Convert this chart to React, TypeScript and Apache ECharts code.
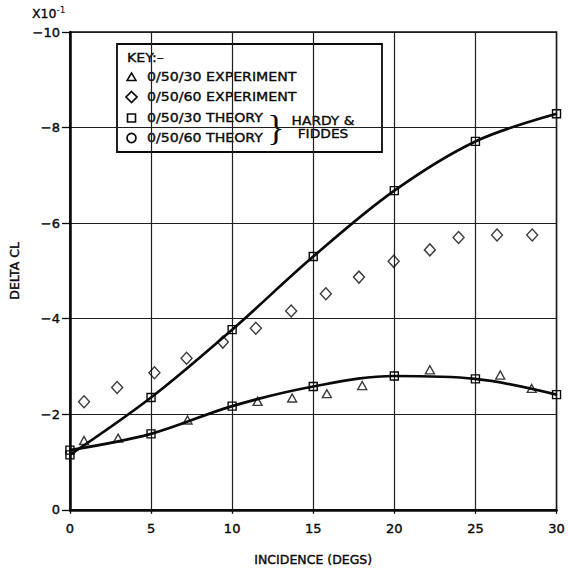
import React, { useEffect, useRef } from "react";
import * as echarts from "echarts";

// Theory curves (Hardy & Fiddes), computed at 5 degree steps
const theoryIncidence = [0, 5, 10, 15, 20, 25, 30];
const theory60 = [-1.15, -2.35, -3.77, -5.3, -6.68, -7.71, -8.29];
const theory30 = [-1.25, -1.59, -2.17, -2.58, -2.8, -2.74, -2.41];

// 0/50/30 experiment
const exp30Incidence = [0.87, 2.97, 7.25, 11.57, 13.7, 15.84, 18.02, 22.19, 26.53, 28.47];
const exp30 = [-1.45, -1.5, -1.88, -2.27, -2.34, -2.43, -2.6, -2.93, -2.82, -2.54];

// 0/50/60 experiment
const exp60Incidence = [0.87, 2.91, 5.21, 7.19, 9.43, 11.46, 13.64, 15.78, 17.82, 19.96, 22.19, 23.96, 26.33, 28.5];
const exp60 = [-2.26, -2.56, -2.87, -3.17, -3.51, -3.8, -4.16, -4.52, -4.87, -5.2, -5.44, -5.7, -5.75, -5.75];

const xTicks = [0, 5, 10, 15, 20, 25, 30];
const keyLabels = [
  "0/50/30 EXPERIMENT",
  "0/50/60 EXPERIMENT",
  "0/50/30 THEORY",
  "0/50/60 THEORY",
];

const INK = "#0a0a0a";
const FONT = "DejaVu Sans";

const pairs = (xs: number[], ys: number[]) => xs.map((x, i) => [x, ys[i]]);

export default function App() {
  const ref = useRef<HTMLDivElement>(null);

  useEffect(() => {
    if (!ref.current) return;
    const chart = echarts.init(ref.current, undefined, { renderer: "svg" });

    const hollow = { color: "rgba(0,0,0,0)", borderColor: INK, borderWidth: 1.4 };
    const heavy = { textBorderColor: INK, textBorderWidth: 0.4 };
    const textStyle = (text: string, align = "left") => ({
      text,
      fill: INK,
      font: `12px "${FONT}"`,
      align,
      verticalAlign: "middle",
      stroke: INK,
      lineWidth: 0.35,
    });
    const keyText = (text: string, x: number, y: number) => ({
      type: "text",
      x,
      y,
      scaleX: 1.18,
      style: textStyle(text),
    });
    const rowY = [77, 97, 118, 138];
    const symX = 131.5;

    chart.setOption({
      animation: false,
      backgroundColor: "#ffffff",
      grid: {
        left: 69,
        top: 32,
        right: 8,
        bottom: 54,
        show: true,
        borderColor: INK,
        borderWidth: 1.5,
      },
      xAxis: {
        type: "value",
        min: xTicks[0],
        max: xTicks[xTicks.length - 1],
        interval: 5,
        name: "INCIDENCE (DEGS)",
        nameLocation: "middle",
        nameGap: 43,
        nameTextStyle: { color: INK, fontFamily: FONT, fontSize: 12.5, ...heavy },
        axisLine: { onZero: false, lineStyle: { color: INK, width: 2.5 } },
        axisTick: { show: true, length: 4, lineStyle: { color: INK, width: 1.3 } },
        axisLabel: { color: INK, fontFamily: FONT, fontSize: 13, margin: 12, ...heavy },
        splitLine: { show: true, lineStyle: { color: "#1e1e1e", width: 1.2 } },
      },
      yAxis: {
        type: "value",
        inverse: true,
        min: -10,
        max: 0,
        interval: 2,
        name: "DELTA CL",
        nameLocation: "middle",
        nameGap: 46,
        nameRotate: 90,
        nameTextStyle: { color: INK, fontFamily: FONT, fontSize: 12.5, ...heavy },
        axisLine: { onZero: false, lineStyle: { color: INK, width: 2.5 } },
        axisTick: { show: true, length: 8, lineStyle: { color: INK, width: 1.3 } },
        axisLabel: {
          color: INK,
          fontFamily: FONT,
          fontSize: 13,
          margin: 10,
          ...heavy,
          formatter: (v: number) => (v === 0 ? "0" : "\u2212" + Math.abs(v)),
        },
        splitLine: { show: true, lineStyle: { color: "#1e1e1e", width: 1.2 } },
      },
      series: [
        {
          name: "0/50/60 THEORY",
          type: "line",
          data: pairs(theoryIncidence, theory60),
          smooth: 0.35,
          symbol: "rect",
          symbolSize: 8,
          lineStyle: { color: INK, width: 2.7 },
          itemStyle: hollow,
          z: 3,
        },
        {
          name: "0/50/30 THEORY",
          type: "line",
          data: pairs(theoryIncidence, theory30),
          smooth: 0.35,
          symbol: "rect",
          symbolSize: 8,
          lineStyle: { color: INK, width: 2.7 },
          itemStyle: hollow,
          z: 3,
        },
        {
          name: "0/50/30 EXPERIMENT",
          type: "scatter",
          data: pairs(exp30Incidence, exp30),
          symbol: "triangle",
          symbolSize: [9, 8],
          itemStyle: hollow,
          z: 4,
        },
        {
          name: "0/50/60 EXPERIMENT",
          type: "scatter",
          data: pairs(exp60Incidence, exp60),
          symbol: "diamond",
          symbolSize: [11, 12],
          itemStyle: hollow,
          z: 4,
        },
      ],
      graphic: [
        {
          type: "text",
          x: 32,
          y: 21,
          z: 100,
          style: {
            text: "{b|X10}{s|-1}",
            verticalAlign: "bottom",
            rich: {
              b: { fontFamily: FONT, fontSize: 12.5, fill: INK, stroke: INK, lineWidth: 0.35 },
              s: { fontFamily: FONT, fontSize: 9, fill: INK, verticalAlign: "top", padding: [0, 0, 7, 0] },
            },
          },
        },
        {
          type: "group",
          z: 100,
          children: [
            { type: "rect", shape: { x: 103, y: 43, width: 296, height: 112 }, style: { fill: "#ffffff" } },
            {
              type: "rect",
              shape: { x: 117, y: 44, width: 265, height: 108 },
              style: { fill: "#ffffff", stroke: INK, lineWidth: 1.8 },
            },
            keyText("KEY:\u2013", 127, 58),
            {
              type: "polygon",
              shape: { points: [[symX, rowY[0] - 4], [symX + 4.5, rowY[0] + 3.5], [symX - 4.5, rowY[0] + 3.5]] },
              style: { fill: "none", stroke: INK, lineWidth: 1.5 },
            },
            {
              type: "polygon",
              shape: { points: [[symX, rowY[1] - 5.5], [symX + 5.5, rowY[1]], [symX, rowY[1] + 5.5], [symX - 5.5, rowY[1]]] },
              style: { fill: "none", stroke: INK, lineWidth: 1.7 },
            },
            {
              type: "rect",
              shape: { x: symX - 4, y: rowY[2] - 4, width: 8, height: 8 },
              style: { fill: "none", stroke: INK, lineWidth: 1.6 },
            },
            {
              type: "circle",
              shape: { cx: symX, cy: rowY[3], r: 4.5 },
              style: { fill: "none", stroke: INK, lineWidth: 1.7 },
            },
            ...keyLabels.map((t, i) => keyText(t, 147, rowY[i])),
            {
              type: "text",
              x: 276,
              y: 128,
              style: {
                text: "}",
                fill: INK,
                font: `36px "Liberation Serif"`,
                align: "center",
                verticalAlign: "middle",
              },
            },
            { type: "text", x: 323, y: 121, scaleX: 1.15, style: textStyle("HARDY &", "center") },
            { type: "text", x: 323, y: 134, scaleX: 1.15, style: textStyle("FIDDES", "center") },
          ],
        },
      ],
    });

    return () => chart.dispose();
  }, []);

  return (
    <div
      ref={ref}
      style={{ position: "fixed", left: 0, top: 0, width: 568, height: 571, background: "#fff" }}
    />
  );
}
